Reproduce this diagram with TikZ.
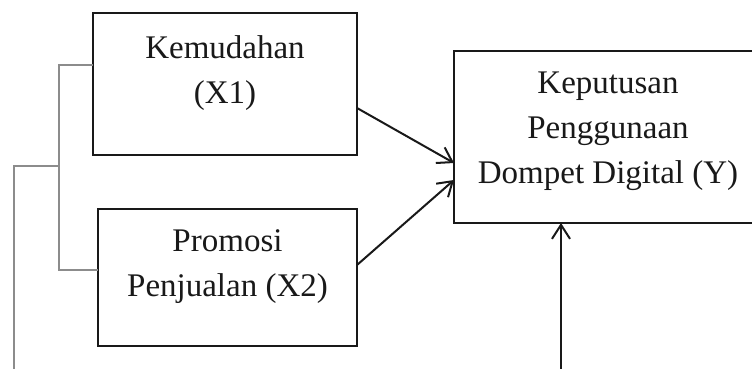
\documentclass[tikz,border=0pt]{standalone}
\usepackage{fontspec}
\setmainfont{Liberation Serif}
\usetikzlibrary{arrows.meta}
\begin{document}
\begin{tikzpicture}[x=1pt,y=-1pt,
  box/.style={draw=black!90,line width=2.4pt,fill=white,inner sep=0pt,outer sep=0pt},
  lbl/.style={align=center,inner sep=0pt,text=black!90,font=\fontsize{33}{45}\selectfont},
  conn/.style={draw=black!90,line width=2pt,-{Straight Barb[length=14pt,width=18pt,line width=2pt]}},
  brk/.style={draw=black!45,line width=1.5pt}]
\useasboundingbox (0,0) rectangle (752,369);
\clip (0,0) rectangle (752,369);
\fill[white] (0,0) rectangle (752,369);
\node[box,minimum width=264pt,minimum height=142pt] (x1) at (225,84) {};
\node[box,minimum width=259pt,minimum height=137pt] (x2) at (227.5,277.5) {};
\node[box,minimum width=308pt,minimum height=172pt] (y) at (608,137) {};
\node[lbl] (tx1) at (225,73) {Kemudahan\\(X1)};
\node[lbl] (tx2) at (227.5,267) {Promosi\\Penjualan (X2)};
\node[lbl] (ty) at (608,131.5) {Keputusan\\Penggunaan\\Dompet Digital (Y)};
\draw[conn] ([yshift=-24pt]x1.east) -- ([yshift=-26pt]y.west);
\draw[conn] ([yshift=12.5pt]x2.east) -- ([yshift=-43pt]y.west);
\coordinate (b) at (561,369);
\draw[conn] (b) -- (b |- y.south);
\coordinate (k1) at (59,65);
\coordinate (k2) at (59,270);
\coordinate (m) at (59,166);
\coordinate (m2) at (14,166);
\coordinate (e) at (14,369);
\draw[brk] ([yshift=19pt]x1.west) -- (k1) -- (k2) -- ([yshift=7.5pt]x2.west);
\draw[brk] (m) -- (m2) -- (e);
\end{tikzpicture}
\end{document}
